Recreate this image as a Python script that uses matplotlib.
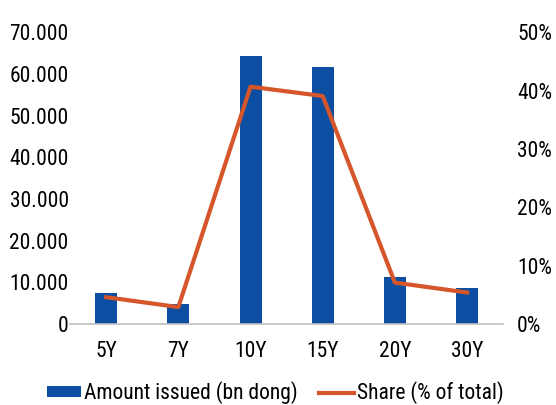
import matplotlib
matplotlib.use("Agg")
import matplotlib.pyplot as plt
import numpy as np

plt.rcParams['font.family'] = ['Roboto Condensed', 'DejaVu Sans']

tenors = ["5Y", "7Y", "10Y", "15Y", "20Y", "30Y"]
amount = [7440, 4800, 64400, 61800, 11200, 8600]
share = [4.6, 2.9, 40.7, 39.1, 7.1, 5.4]
left_ticks = [0, 10000, 20000, 30000, 40000, 50000, 60000, 70000]
right_ticks = [0, 10, 20, 30, 40, 50]

blue = "#0b4ea2"
orange = "#d5562b"
fs = 15.5

fig = plt.figure(figsize=(5.56, 4.05), dpi=100)
ax = fig.add_axes([0.126, 0.2, 0.779, 0.7198])
x = np.arange(len(tenors))
bars = ax.bar(x, amount, width=0.305, color=blue, label="Amount issued (bn dong)", zorder=2)
ax.set_xlim(-0.5, len(tenors) - 0.5)
ax.set_ylim(0, 70000)
ax.set_yticks(left_ticks)
ax.set_yticklabels([f"{v:,}".replace(",", ".") for v in left_ticks])
ax.set_xticks(x)
ax.set_xticklabels(tenors)
for s in ["top", "right", "left"]:
    ax.spines[s].set_visible(False)
ax.spines["bottom"].set_color("#c0c0c0")
ax.spines["bottom"].set_linewidth(1.2)
ax.tick_params(axis="both", length=0, labelsize=fs)
ax.tick_params(axis="y", pad=1)
ax.tick_params(axis="x", pad=12)

ax2 = ax.twinx()
line, = ax2.plot(x, share, color=orange, lw=3, label="Share (% of total)", zorder=3)
ax2.set_ylim(0, 50)
ax2.set_yticks(right_ticks)
ax2.set_yticklabels([f"{v}%" for v in right_ticks])
for s in ["top", "right", "left", "bottom"]:
    ax2.spines[s].set_visible(False)
ax2.tick_params(axis="y", length=0, labelsize=fs, pad=10)

fig.legend([bars, line], ["Amount issued (bn dong)", "Share (% of total)"],
           loc="center", bbox_to_anchor=(0.495, 0.03), ncol=2, frameon=False,
           fontsize=fs, handlelength=1.6, handleheight=0.37, handletextpad=0.15,
           columnspacing=1.0, borderaxespad=0, borderpad=0)

fig.savefig("out.png", dpi=100)
